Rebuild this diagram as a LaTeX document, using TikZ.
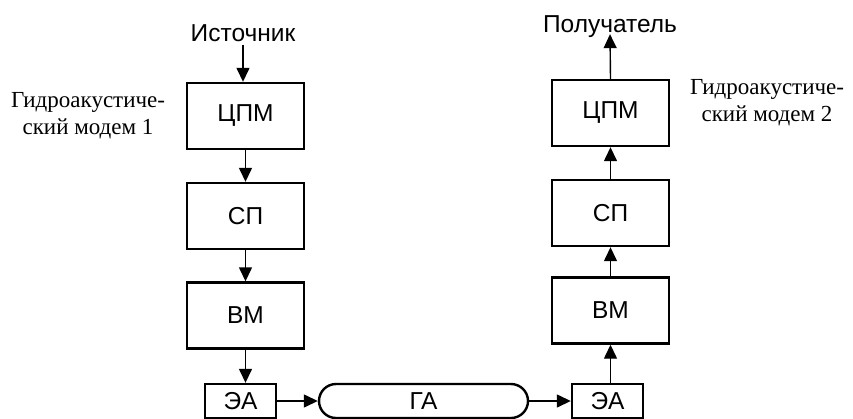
\documentclass[tikz,border=0pt]{standalone}
\usepackage{fontspec}
\setmainfont{Liberation Sans}
\newfontfamily\serifcyr{Liberation Serif}
\usetikzlibrary{arrows.meta,positioning}
\begin{document}
\begin{tikzpicture}[x=1pt,y=-1pt,
  blk/.style={draw,line width=2.4pt,minimum width=117pt,minimum height=66pt,inner sep=0pt,font=\fontsize{24.5}{24.5}\selectfont},
  ea/.style={draw,line width=2.4pt,minimum width=71pt,minimum height=34pt,inner sep=0pt,font=\fontsize{24.5}{24.5}\selectfont},
  ga/.style={draw,line width=2.4pt,rounded corners=17pt,minimum width=209pt,minimum height=34pt,inner sep=0pt,font=\fontsize{24.5}{24.5}\selectfont},
  lbl/.style={font=\fontsize{24.5}{24.5}\selectfont,inner sep=0pt},
  mdm/.style={font=\serifcyr\fontsize{23}{27}\selectfont,align=center,inner sep=0pt},
  arr/.style={line width=1.4pt,-{Triangle[width=13pt,length=14pt]}}]
\useasboundingbox (0,0) rectangle (853,418);
\node[lbl] (src) at (243,33) {Источник};
\node[lbl] (dst) at (610,27) {Получатель};
\node[blk] (cpm1) at (245.5,116) {ЦПМ};
\node[blk] (sp1) at (245.5,216) {СП};
\node[blk] (vm1) at (245.5,315.5) {ВМ};
\node[ea] (ea1) at (240.5,401) {ЭА};
\node[ga] (ga) at (423.5,401) {ГА};
\node[ea] (ea2) at (607.5,401) {ЭА};
\node[blk] (cpm2) at (610.5,113) {ЦПМ};
\node[blk] (sp2) at (610.5,213) {СП};
\node[blk] (vm2) at (610.5,310.5) {ВМ};
\node[mdm] (m1) at (88,116) {Гидроакустиче-\\ский модем 1};
\node[mdm] (m2) at (767,103) {Гидроакустиче-\\ский модем 2};
\draw[arr] (src.south) ++(0,3) coordinate (s0) -- (s0 |- cpm1.north);
\draw[arr] (cpm1.south) -- (sp1.north);
\draw[arr] (sp1.south) -- (vm1.north);
\draw[arr] (vm1.south) -- (vm1.south |- ea1.north);
\draw[arr] (ea1.east) -- (ga.west);
\draw[arr] (ga.east) -- (ea2.east -| ea2.west);
\draw[arr] (ea2.north -| vm2.south) -- (vm2.south);
\draw[arr] (vm2.north) -- (sp2.south);
\draw[arr] (sp2.north) -- (cpm2.south);
\draw[arr] (cpm2.north) -- ([yshift=4pt]dst.south);
\end{tikzpicture}
\end{document}
